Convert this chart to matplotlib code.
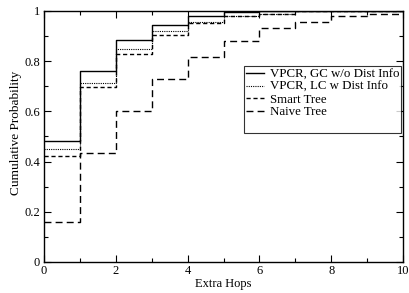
import numpy as np
from matplotlib import pyplot as plt
from matplotlib.lines import Line2D
from matplotlib.ticker import MultipleLocator

plt.rcParams['font.family'] = ['Liberation Serif', 'DejaVu Serif']

hops = [0, 1, 2, 3, 4, 5, 6, 7, 8, 9, 10]
gc_no_dist = [0.482, 0.761, 0.883, 0.944, 0.980, 0.995, 1.0, 1.0, 1.0, 1.0, 1.0]
lc_dist = [0.449, 0.714, 0.847, 0.920, 0.956, 0.981, 0.990, 1.0, 1.0, 1.0, 1.0]
smart_tree = [0.422, 0.697, 0.830, 0.906, 0.952, 0.980, 0.990, 1.0, 1.0, 1.0, 1.0]
naive_tree = [0.161, 0.435, 0.603, 0.728, 0.815, 0.879, 0.932, 0.957, 0.981, 0.990, 0.990]

fig = plt.figure(figsize=(4.09, 2.93), dpi=100)
ax = fig.add_axes([44/409, 31/293, 359/409, 251/293])

ax.step(hops, gc_no_dist, where="post", color="black", lw=1.0, label="VPCR, GC w/o Dist Info")
ax.step(hops, lc_dist, where="post", color="black", lw=0.8, ls=(0, (1, 1)), label="VPCR, LC w Dist Info")
ax.step(hops, smart_tree, where="post", color="black", lw=1.0, ls=(0, (3, 2)), label="Smart Tree")
ax.step(hops, naive_tree, where="post", color="black", lw=1.0, ls=(0, (5, 3)), label="Naive Tree")

ax.set_xlim(0, 10)
ax.set_ylim(0, 1)
ax.xaxis.set_major_locator(MultipleLocator(2))
ax.xaxis.set_minor_locator(MultipleLocator(1))
ax.yaxis.set_major_locator(MultipleLocator(0.2))
ax.yaxis.set_minor_locator(MultipleLocator(0.1))
ax.tick_params(which="both", direction="in", top=True, right=True, labelsize=9, width=0.8)
ax.tick_params(which="major", length=5)
ax.tick_params(which="minor", length=3)
ax.tick_params(axis="y", pad=3)
ax.tick_params(axis="x", pad=2)
ax.yaxis.set_major_formatter(plt.FuncFormatter(lambda v, p: "%g" % v))
ax.xaxis.set_major_formatter(plt.FuncFormatter(lambda v, p: "%g" % v))
for s in ax.spines.values():
    s.set_linewidth(1.0)

ax.set_xlabel("Extra Hops", fontsize=9, labelpad=1)
ax.set_ylabel("Cumulative Probability", fontsize=9.5)
ax.yaxis.set_label_coords(-0.062, 0.515)

handles, labels = ax.get_legend_handles_labels()
handles.append(Line2D([], [], color="none"))
labels.append(" ")
leg = ax.legend(handles, labels, loc="upper right", bbox_to_anchor=(1.0, 0.787), fontsize=9.3,
                frameon=True, fancybox=False, edgecolor="black", handlelength=1.4,
                handletextpad=0.45, borderpad=0.15, labelspacing=0.05, borderaxespad=0.15)
leg.get_frame().set_linewidth(0.8)

fig.savefig("out.png", dpi=100)
